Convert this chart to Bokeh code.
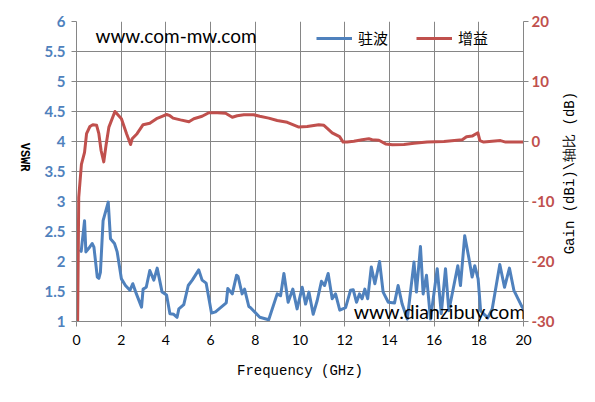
import math
from bokeh.plotting import figure
from bokeh.models import Range1d, LinearAxis, FixedTicker, CustomJSTickFormatter, Label
from bokeh.embed import file_html
from bokeh.resources import INLINE

# ---- data ----
vswr_freq = [0.15, 0.21, 0.36, 0.42, 0.55, 0.70, 0.78, 0.93, 1.00, 1.07, 1.19, 1.42, 1.52, 1.70, 1.82,
             2.01, 2.19, 2.39, 2.52, 2.68, 2.91, 2.98, 3.12, 3.28, 3.46, 3.61, 3.83, 4.03, 4.18, 4.35,
             4.50, 4.58, 4.80, 5.00, 5.18, 5.47, 5.62, 5.80, 6.04, 6.22, 6.70, 6.77, 6.97, 7.16, 7.23,
             7.41, 7.52, 7.71, 7.79, 8.20, 8.60, 8.98, 9.13, 9.28, 9.47, 9.68, 9.87, 10.10, 10.25, 10.40,
             10.59, 10.77, 10.96, 11.10, 11.26, 11.44, 11.59, 11.78, 12.04, 12.26, 12.38, 12.53, 12.66,
             12.78, 12.90, 13.03, 13.19, 13.35, 13.56, 13.72, 13.95, 14.23, 14.39, 14.57, 14.80, 15.10,
             15.21, 15.39, 15.51, 15.66, 15.84, 16.14, 16.32, 16.51, 16.66, 17.06, 17.18, 17.37, 17.55,
             17.70, 17.82, 17.97, 18.08, 18.40, 18.60, 18.94, 19.15, 19.37, 19.57, 19.94, 20.00]
vswr_vals = [2.20, 2.17, 2.68, 2.16, 2.22, 2.30, 2.24, 1.74, 1.72, 1.82, 2.68, 2.99, 2.38, 2.30, 2.16,
             1.71, 1.60, 1.52, 1.63, 1.46, 1.24, 1.54, 1.57, 1.85, 1.69, 1.89, 1.49, 1.44, 1.13, 1.12,
             1.07, 1.21, 1.28, 1.60, 1.69, 1.86, 1.69, 1.64, 1.14, 1.16, 1.31, 1.55, 1.46, 1.77, 1.75,
             1.46, 1.54, 1.25, 1.23, 1.07, 1.03, 1.46, 1.43, 1.80, 1.32, 1.54, 1.21, 1.57, 1.29, 1.49,
             1.12, 1.35, 1.67, 1.60, 1.80, 1.38, 1.46, 1.19, 1.23, 1.52, 1.53, 1.32, 1.46,
             1.38, 1.54, 1.38, 1.91, 1.63, 2.00, 1.49, 1.32, 1.31, 1.60, 1.29, 1.04, 1.99,
             1.49, 2.25, 1.46, 1.77, 1.04, 1.88, 1.13, 1.88, 1.18, 1.93, 1.60, 2.43, 2.07,
             1.74, 1.93, 1.71, 1.18, 1.06, 1.21, 1.95, 1.57, 1.89, 1.52, 1.24, 1.22]

gain_freq = [0.05, 0.10, 0.22, 0.36, 0.45, 0.60, 0.73, 0.90, 1.00, 1.10, 1.22, 1.33, 1.45, 1.72, 2.01,
             2.24, 2.42, 2.49, 2.71, 2.98, 3.28, 3.58, 3.83, 4.03, 4.18, 4.32, 4.65, 5.03, 5.25, 5.62,
             5.92, 6.30, 6.67, 6.97, 7.19, 7.49, 7.93, 8.20, 8.60, 8.98, 9.43, 9.95, 10.32, 10.84, 11.07,
             11.22, 11.44, 11.77, 11.93, 12.11, 12.41, 12.78, 13.08, 13.23, 13.53, 13.83, 14.13, 14.65,
             15.10, 15.69, 16.44, 17.26, 17.45, 17.70, 17.96, 18.05, 18.22, 18.97, 19.20, 19.94, 20.00]
gain_vals = [-30.0, -9.3, -3.8, -1.8, 1.3, 2.5, 2.8, 2.7, 1.3, -1.5, -3.4, -0.4, 2.4, 5.0, 3.8,
             1.3, -0.5, 0.45, 1.3, 2.8, 3.05, 3.8, 4.2, 4.5, 4.3, 3.9, 3.6, 3.3, 3.8, 4.2,
             4.8, 4.8, 4.7, 4.05, 4.3, 4.45, 4.45, 4.2, 3.9, 3.5, 3.2, 2.4, 2.5, 2.8, 2.7,
             2.2, 1.45, 0.8, -0.1, -0.1, 0.05, 0.3, 0.45, 0.3, 0.2, -0.4, -0.55, -0.5,
             -0.3, -0.1, 0.0, 0.3, 0.8, 0.9, 1.45, 0.15, -0.1, 0.15, -0.1, -0.1, -0.1]

x_ticks = [0, 2, 4, 6, 8, 10, 12, 14, 16, 18, 20]
vswr_ticks = [1, 1.5, 2, 2.5, 3, 3.5, 4, 4.5, 5, 5.5, 6]
gain_ticks = [-30, -20, -10, 0, 10, 20]

series_names = ["驻波", "增益"]
x_title = "Frequency (GHz)"
left_title = "VSWR"
right_title = "Gain (dBi)\\轴比 (dB)"
watermarks = ["www.com-mw.com", "www.dianzibuy.com"]

BLUE = "#4F81BD"
RED = "#C0504D"
GRID = "#868686"

p = figure(frame_width=447, frame_height=300, output_backend="svg", toolbar_location=None,
           x_range=Range1d(0, 20), y_range=Range1d(1, 6),
           min_border_left=76, min_border_right=64, min_border_top=21, min_border_bottom=73)
p.extra_y_ranges = {"gain": Range1d(-30, 20)}
p.outline_line_color = None
p.background_fill_color = "white"
p.border_fill_color = "white"

fmt = CustomJSTickFormatter(code="return tick.toString();")

xa = p.xaxis[0]
xa.ticker = FixedTicker(ticks=x_ticks)
xa.formatter = fmt

ya = p.yaxis[0]
ya.ticker = FixedTicker(ticks=vswr_ticks)
ya.formatter = fmt

ra = LinearAxis(y_range_name="gain", ticker=FixedTicker(ticks=gain_ticks), formatter=fmt)
p.add_layout(ra, "right")

for ax in (xa, ya, ra):
    ax.axis_line_color = GRID
    ax.major_tick_line_color = GRID
    ax.major_tick_out = 5
    ax.major_tick_in = 0
    ax.minor_tick_line_color = None
    ax.axis_label_text_font = "Liberation Mono"
    ax.axis_label_text_font_style = "normal"
    ax.axis_label_text_font_size = "14px"
    ax.axis_label_text_color = "black"

xa.major_label_text_font = "Lato"
xa.major_label_text_font_size = "14px"
xa.major_label_text_color = "black"
xa.major_label_standoff = 8
xa.axis_label = x_title
xa.axis_label_standoff = 15

ya.major_label_text_font = "Lato"
ya.major_label_text_font_style = "bold"
ya.major_label_text_font_size = "15px"
ya.major_label_text_color = BLUE
ya.major_label_standoff = 6
ya.axis_label = left_title
ya.axis_label_text_font_style = "bold"
ya.axis_label_text_font_size = "12px"
ya.axis_label_standoff = 18
ya.axis_label_orientation = -math.pi / 2

ra.major_label_text_font = "Lato"
ra.major_label_text_font_style = "bold"
ra.major_label_text_font_size = "15px"
ra.major_label_text_color = RED
ra.major_label_standoff = 3
ra.axis_label = "\u00a0" * 8 + right_title
ra.axis_label_standoff = 13
ra.axis_label_orientation = math.pi / 2
ra.axis_label_align = "start"

p.xgrid.ticker = FixedTicker(ticks=x_ticks)
p.ygrid.ticker = FixedTicker(ticks=vswr_ticks)
p.xgrid.grid_line_color = GRID
p.ygrid.grid_line_color = GRID

p.line(vswr_freq, vswr_vals, line_color=BLUE, line_width=3, line_join="round",
       legend_label=series_names[0])
p.line(gain_freq, gain_vals, line_color=RED, line_width=3, line_join="round",
       y_range_name="gain", legend_label=series_names[1])

lg = p.legend[0]
lg.orientation = "horizontal"
lg.location = (240, 273)
lg.background_fill_alpha = 0
lg.border_line_color = None
lg.padding = 0
lg.margin = 0
lg.spacing = 28
lg.glyph_width = 36
lg.label_standoff = 6
lg.label_text_font = "Noto Sans CJK SC"
lg.label_text_font_size = "15px"
lg.label_text_color = "black"

p.add_layout(Label(x=0.85, y=5.77, text=watermarks[0], text_font="Lato", text_font_size="19px",
                   text_baseline="middle", text_color="black"))
p.add_layout(Label(x=12.4, y=1.16, text=watermarks[1], text_font="Lato", text_font_size="19.5px",
                   text_baseline="middle", text_color="black"))

open("out.html", "w").write(file_html(p, INLINE))
